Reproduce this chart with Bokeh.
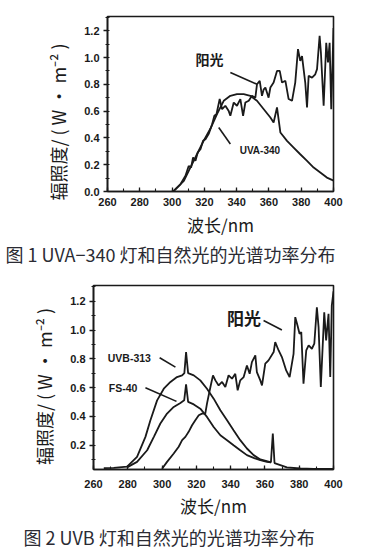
from bokeh.plotting import figure
from bokeh.layouts import row, column
from bokeh.models import Range1d, FixedTicker, ColumnDataSource, NumeralTickFormatter, Spacer
from bokeh.core.properties import value
from bokeh.embed import file_html
from bokeh.resources import INLINE

# ---------------- data: chart 1 (UVA-340 vs sunlight) ----------------
uva340_nm = [300, 301, 307.3, 311.4, 315.5, 319.6, 323.8, 327.9, 332, 336.1, 340.2, 344.4,
             348.5, 352.6, 356.8, 360.9, 362.9, 365, 367.1, 371.2, 375.3, 379.4, 383.6,
             387.7, 391.8, 395.9, 399, 400]
uva340_val = [0, 0.005, 0.08, 0.18, 0.28, 0.38, 0.47, 0.58, 0.677, 0.714, 0.726, 0.726,
              0.714, 0.677, 0.614, 0.552, 0.515, 0.627, 0.44, 0.378, 0.328, 0.278, 0.229,
              0.179, 0.142, 0.104, 0.087, 0.08]

sun1_nm = [300, 301.1, 305.2, 308.3, 310.3, 311.8, 313, 314.5, 315.9, 317.6,
           319.2, 320.7, 322.7, 324.8, 326.2, 327.5, 329.5, 331, 333, 335.1,
           336.1, 338.2, 340.2, 342.3, 344, 345.4, 347.5, 349.5, 351.6, 352.6,
           354.3, 355.7, 356.7, 357.8, 359.8, 360.9, 362.9, 365, 366.7, 368.1,
           370.2, 372.2, 374.3, 376.3, 378, 379.4, 380.5, 382.5, 383.6, 384.6,
           386.7, 388.7, 389.8, 391.4, 392.2, 393.9, 395.5, 396.6, 397.6, 398.6, 400]
sun1_val = [0, 0.005, 0.054, 0.117, 0.191, 0.179, 0.254, 0.229, 0.291, 0.316,
            0.378, 0.39, 0.43, 0.502, 0.565, 0.577, 0.69, 0.614, 0.64, 0.60,
            0.565, 0.664, 0.64, 0.69, 0.565, 0.664, 0.677, 0.714, 0.70, 0.80,
            0.826, 0.714, 0.76, 0.776, 0.70, 0.776, 0.813, 0.90, 0.90, 0.813,
            0.826, 0.69, 0.677, 0.813, 1.062, 0.975, 1.01, 0.813, 0.627, 0.863,
            0.85, 0.875, 0.913, 1.162, 1.037, 0.64, 1.11, 0.963, 1.11, 0.614, 1.22]

# ---------------- data: chart 2 (UVB-313, FS-40 vs sunlight) ----------------
uvb313_nm = [266, 271.8, 279.6, 285.4, 290.3, 293.2, 297.1, 301, 304.9, 308.7,
             311.7, 313.0, 314.0, 315.2, 318.5, 322.3, 326.2, 330.1, 334, 337.9,
             341.7, 345.6, 349.5, 353.4, 357.3, 362.1, 363.5, 364.6, 365.6, 372.8,
             380.6, 388.4, 400]
uvb313_val = [0.04, 0.042, 0.05, 0.118, 0.257, 0.373, 0.511, 0.592, 0.639, 0.673,
              0.685, 0.70, 0.847, 0.70, 0.685, 0.65, 0.592, 0.523, 0.442, 0.373,
              0.303, 0.234, 0.176, 0.13, 0.1, 0.085, 0.08, 0.28, 0.075, 0.045,
              0.037, 0.035, 0.035]

fs40_nm = [279.6, 285.4, 291.3, 295.2, 299, 302.9, 306.8, 310.7, 312.9, 314.0,
           315.2, 318.5, 322.3, 326.2, 330.1, 334, 337.9, 341.7, 345.6, 349.5,
           353.4, 357.3, 361.2, 363.5]
fs40_val = [0.045, 0.083, 0.164, 0.257, 0.35, 0.419, 0.465, 0.493, 0.511, 0.622,
            0.50, 0.483, 0.453, 0.396, 0.326, 0.268, 0.234, 0.199, 0.164, 0.13,
            0.111, 0.095, 0.083, 0.08]

sun2_nm = [300, 302.9, 306.8, 309.7, 311.7, 313.6, 315.5, 317.5, 319.4, 321.4,
           323.3, 325.2, 326.2, 328.2, 329.7, 331.1, 333, 335, 336.9, 338.8,
           340.8, 342.7, 344.1, 345.6, 347.6, 349.5, 351.1, 352.4, 354.4, 355.3,
           357.3, 358.3, 360.2, 362.1, 365.1, 366, 368, 369.9, 372.4, 374.4,
           376.7, 377.7, 379.0, 380.2, 381.2, 382.5, 384.1, 385.5, 387.4, 388.8,
           390.3, 391.3, 392.6, 394.6, 395.7, 397.1, 398.1, 399.0, 400]
sun2_val = [0.035, 0.083, 0.141, 0.188, 0.234, 0.257, 0.292, 0.338, 0.373, 0.407,
            0.419, 0.419, 0.488, 0.604, 0.685, 0.65, 0.615, 0.639, 0.604, 0.685,
            0.662, 0.696, 0.581, 0.65, 0.673, 0.754, 0.696, 0.777, 0.824, 0.708,
            0.65, 0.615, 0.766, 0.789, 0.847, 0.916, 0.858, 0.812, 0.719, 0.673,
            0.835, 1.09, 1.032, 0.974, 0.986, 0.627, 0.858, 0.893, 0.87, 0.905,
            1.159, 1.02, 0.604, 1.124, 0.928, 1.113, 0.673, 1.17, 1.27]

# ---------------- ticks, texts ----------------
x_ticks = [260, 280, 300, 320, 340, 360, 380, 400]
y_ticks_1 = [0.0, 0.2, 0.4, 0.6, 0.8, 1.0, 1.2]
y_ticks_2 = [0.2, 0.4, 0.6, 0.8, 1.0, 1.2]
x_title = "波长/nm"
y_title = "辐照度/ ( W · m⁻² )"
caption_1 = "图 1  UVA−340 灯和自然光的光谱功率分布"
caption_2 = "图 2  UVB 灯和自然光的光谱功率分布"

# annotation labels (text, anchor nm, anchor value) and leader lines
labels_1 = {"text": ["阳光", "UVA-340"], "x": [314.5, 341.9], "y": [0.99, 0.304]}
leaders_1 = {"x0": [336.1, 328.9], "y0": [0.888, 0.478], "x1": [352.6, 336.1], "y1": [0.80, 0.354]}
labels_2 = {"text": ["阳光", "UVB-313", "FS-40"], "x": [337.9, 268.3, 268.9], "y": [1.089, 0.807, 0.599]}
leaders_2 = {"x0": [359.2, 298.6, 290.3], "y0": [1.066, 0.807, 0.599],
             "x1": [369.9, 307.8, 308.4], "y1": [1.001, 0.742, 0.504]}

INK = "#1a1a1a"
CAP_INK = "#2b2b33"
TICK_FONT = "Liberation Sans"
CJK = "Noto Sans CJK SC"


def style(p, yticks, y_label, xl_standoff, xt_standoff):
    p.background_fill_color = "white"
    p.border_fill_color = "white"
    p.outline_line_color = INK
    p.outline_line_width = 1.6
    p.xgrid.visible = False
    p.ygrid.visible = False
    p.xaxis.ticker = FixedTicker(ticks=x_ticks, minor_ticks=list(range(260, 401, 10)))
    p.yaxis.ticker = FixedTicker(ticks=yticks, minor_ticks=[round(0.1 * i, 1) for i in range(0, 14)])
    p.yaxis.formatter = NumeralTickFormatter(format="0.0")
    p.xaxis.formatter = NumeralTickFormatter(format="0")
    for ax in (p.xaxis[0], p.yaxis[0]):
        ax.axis_line_color = INK
        ax.axis_line_width = 1.6
        ax.major_tick_line_color = INK
        ax.minor_tick_line_color = INK
        ax.major_tick_line_width = 1.3
        ax.minor_tick_line_width = 1.1
        ax.major_label_text_font = TICK_FONT
        ax.major_label_text_font_style = "bold"
        ax.major_label_text_font_size = "11px"
        ax.major_label_text_color = INK
        ax.axis_label_text_font = CJK
        ax.axis_label_text_font_style = "normal"
        ax.axis_label_text_color = INK
    xa = p.xaxis[0]
    xa.axis_label_text_font_size = "17px"
    xa.major_tick_in = 4
    xa.major_tick_out = 0
    xa.minor_tick_in = 3
    xa.minor_tick_out = 0
    xa.major_label_standoff = xt_standoff
    xa.axis_label = x_title
    xa.axis_label_standoff = xl_standoff
    ya = p.yaxis[0]
    ya.axis_label_text_font_size = "18px"
    ya.major_tick_in = 0
    ya.major_tick_out = 4
    ya.minor_tick_in = 2
    ya.minor_tick_out = 2
    ya.major_label_standoff = 4
    ya.axis_label = y_label
    ya.axis_label_standoff = 10


def caption_fig(text, tx, ty, w, h):
    c = figure(width=w, height=h, x_range=Range1d(0, w), y_range=Range1d(0, h),
               x_axis_type=None, y_axis_type=None, min_border=0,
               output_backend="svg", toolbar_location=None)
    c.grid.visible = False
    c.outline_line_color = None
    c.background_fill_color = "white"
    c.border_fill_color = "white"
    c.text(x=[tx], y=[ty], text=[text], text_font=value(CJK), text_font_size="18px",
           text_baseline="middle", text_align="left", text_color=CAP_INK)
    return c


# ---------------- figure 1 ----------------
p1 = figure(frame_width=226, frame_height=175, min_border_left=78, min_border_right=25,
            min_border_top=16, min_border_bottom=49,
            x_range=Range1d(260, 400), y_range=Range1d(0, 1.306),
            output_backend="svg", toolbar_location=None)
style(p1, y_ticks_1, y_title + "\u3000\u3000", 3, 6)

p1.line(uva340_nm, uva340_val, line_color=INK, line_width=1.8)
p1.line(sun1_nm, sun1_val, line_color=INK, line_width=1.8)
p1.segment(x0="x0", y0="y0", x1="x1", y1="y1", source=ColumnDataSource(leaders_1),
           line_color=INK, line_width=1.6)
p1.text(x="x", y="y", text="text", source=ColumnDataSource({k: [v[0]] for k, v in labels_1.items()}),
        text_font=value(CJK), text_font_style="bold", text_font_size="14px",
        text_baseline="middle", text_align="left", text_color=INK)
p1.text(x="x", y="y", text="text", source=ColumnDataSource({k: [v[1]] for k, v in labels_1.items()}),
        text_font=value(TICK_FONT), text_font_style="bold", text_font_size="10px",
        text_baseline="middle", text_align="left", text_color=INK)
cap1 = caption_fig(caption_1, 5, 20, 358, 33)

# ---------------- figure 2 ----------------
p2 = figure(frame_width=240, frame_height=184, min_border_left=76, min_border_right=25,
            min_border_top=12, min_border_bottom=49,
            x_range=Range1d(260, 400), y_range=Range1d(0.03, 1.31),
            output_backend="svg", toolbar_location=None)
style(p2, y_ticks_2, y_title + "\u3000", 2, 10)

p2.line(uvb313_nm, uvb313_val, line_color=INK, line_width=1.8)
p2.line(fs40_nm, fs40_val, line_color=INK, line_width=1.8)
p2.line(sun2_nm, sun2_val, line_color=INK, line_width=1.8)
p2.segment(x0="x0", y0="y0", x1="x1", y1="y1", source=ColumnDataSource(leaders_2),
           line_color=INK, line_width=1.6)
p2.text(x="x", y="y", text="text", source=ColumnDataSource({k: [v[0]] for k, v in labels_2.items()}),
        text_font=value(CJK), text_font_style="bold", text_font_size="17px",
        text_baseline="middle", text_align="left", text_color=INK)
p2.text(x="x", y="y", text="text", source=ColumnDataSource({k: v[1:] for k, v in labels_2.items()}),
        text_font=value(TICK_FONT), text_font_style="bold", text_font_size="10.5px",
        text_baseline="middle", text_align="left", text_color=INK)
cap2 = caption_fig(caption_2, 23, 17, 358, 33)

root1 = column(row(Spacer(width=29, height=10), p1, spacing=0), cap1, spacing=0)
root2 = column(row(Spacer(width=17, height=10), p2, spacing=0), cap2, spacing=0)
open("out.html", "w").write(file_html([root1, root2], INLINE))
